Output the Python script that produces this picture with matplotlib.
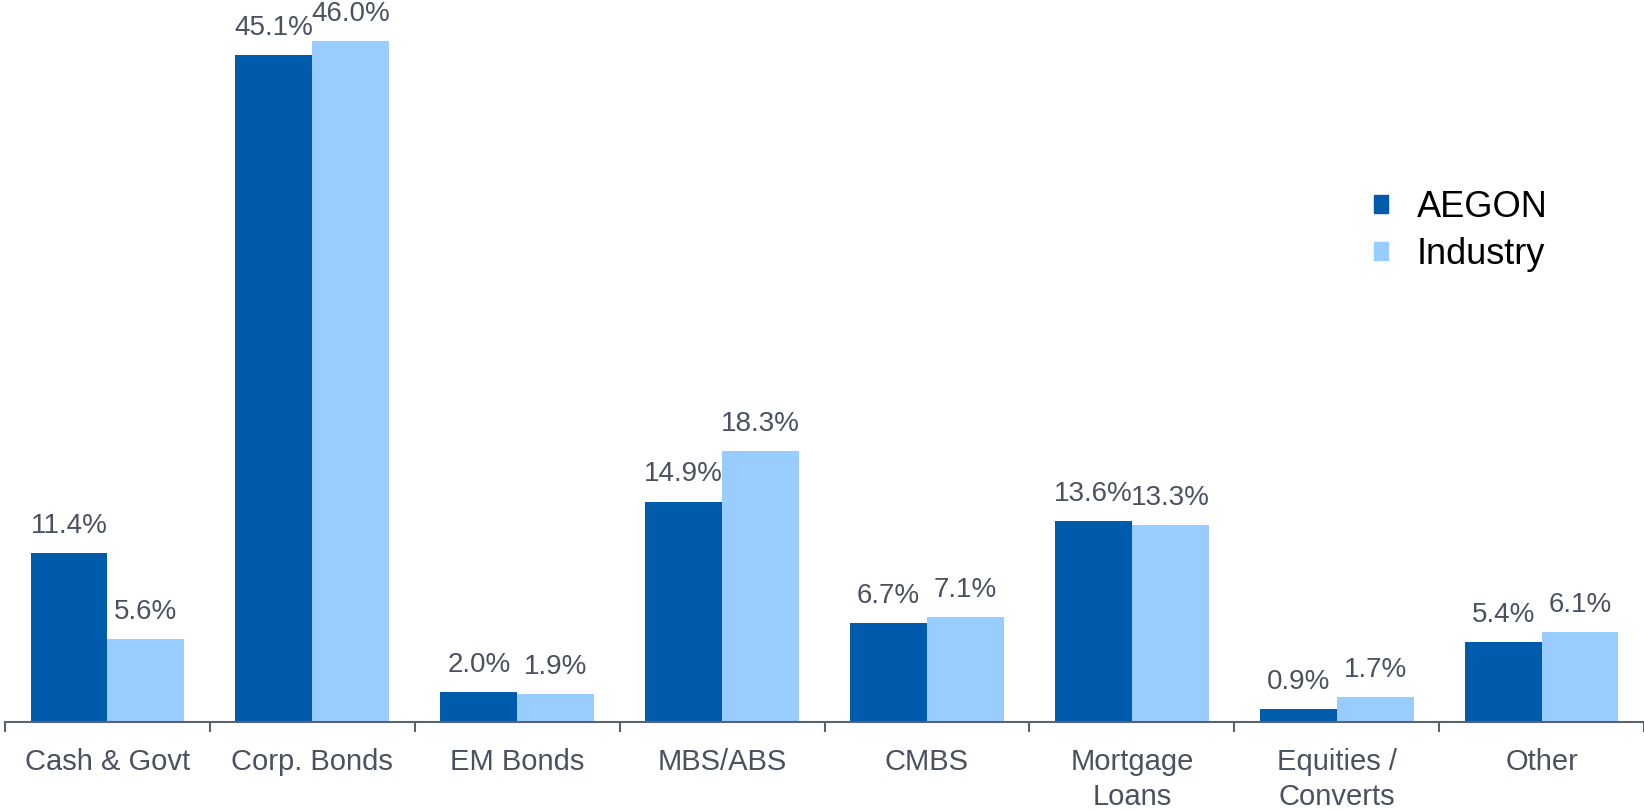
import matplotlib
matplotlib.use("Agg")
import matplotlib.pyplot as plt
from matplotlib.patches import Patch
import numpy as np

categories = ["Cash & Govt", "Corp. Bonds", "EM Bonds", "MBS/ABS", "CMBS",
              "Mortgage\nLoans", "Equities /\nConverts", "Other"]
aegon = [11.4, 45.1, 2.0, 14.9, 6.7, 13.6, 0.9, 5.4]
industry = [5.6, 46.0, 1.9, 18.3, 7.1, 13.3, 1.7, 6.1]
series_names = ["AEGON", "Industry"]

DARK = "#005BAC"
LIGHT = "#99CCFF"
TXT = "#4A5160"
AX = "#5A6170"

plt.rcParams['font.family'] = ['Liberation Sans', 'DejaVu Sans']

W, H = 1644, 811
fig = plt.figure(figsize=(W / 100, H / 100), dpi=100)
ax = fig.add_axes([5 / W, 89 / H, 1 - 5 / W, 1 - 89 / H])

x = np.arange(len(categories))
bw = 0.375
b1 = ax.bar(x - bw / 2, aegon, bw, color=DARK, label=series_names[0])
b2 = ax.bar(x + bw / 2, industry, bw, color=LIGHT, label=series_names[1])

for bars, vals in ((b1, aegon), (b2, industry)):
    for r, v in zip(bars, vals):
        ax.annotate(f"{v:.1f}%", (r.get_x() + r.get_width() / 2, v),
                    xytext=(0, 14.5), textcoords="offset points",
                    ha="center", va="baseline", fontsize=20, color=TXT,
                    annotation_clip=False)

ax.set_xlim(-0.5, len(categories) - 0.5)
ax.set_ylim(0, 48.8)
ax.set_yticks([])
for s in ("top", "right", "left"):
    ax.spines[s].set_visible(False)
ax.spines["bottom"].set_color(AX)
ax.spines["bottom"].set_linewidth(1.5)
ax.spines["bottom"].set_clip_on(False)

ax.set_xticks(x)
ax.set_xticklabels(categories, fontsize=21, color=TXT, linespacing=1.33)
ax.tick_params(axis="x", which="major", length=0, pad=18.5)
ax.set_xticks(np.arange(-0.5, len(categories), 1.0), minor=True)
ax.tick_params(axis="x", which="minor", length=7, width=1.5, color=AX, direction="out")

handles = [Patch(color=DARK), Patch(color=LIGHT)]
leg = ax.legend(handles, series_names, loc="upper left",
                bbox_to_anchor=(1374 / W, 1 - 190 / H), bbox_transform=fig.transFigure,
                frameon=False, fontsize=26, handlelength=0.4, handleheight=0.4,
                handletextpad=0.78, labelspacing=0.33, borderaxespad=0, borderpad=0)
for t in leg.get_texts():
    t.set_color("black")

fig.savefig("out.png", dpi=100)
